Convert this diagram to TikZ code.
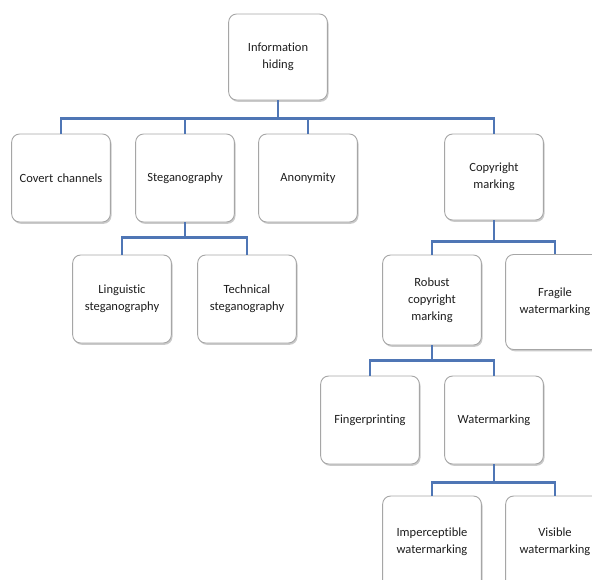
\documentclass[tikz,border=0pt]{standalone}
\usepackage{fontspec}
\setmainfont{Carlito}[Ligatures=NoCommon]
\usetikzlibrary{shadows}
\definecolor{connblue}{HTML}{4F76B5}
\definecolor{boxgray}{HTML}{A6A6A6}
\definecolor{txt}{HTML}{1E1E1E}
\tikzset{
  box/.style={draw=boxgray, line width=0.9pt, fill=white, rounded corners=8pt,
    minimum width=96pt, minimum height=88pt, text width=92pt, align=center,
    text=txt, font=\fontsize{12.5pt}{17pt}\selectfont,
    drop shadow={shadow xshift=1.2pt, shadow yshift=-1.8pt, opacity=0.35, fill=black!60}},
  conn/.style={draw=connblue, line width=2.6pt}
}
\begin{document}
\begin{tikzpicture}
\useasboundingbox (0,0) rectangle (592pt,-579pt);
\clip (0,0) rectangle (592pt,-579pt);
% nodes
\node[box, minimum height=86pt] (ih) at (278pt,-57pt) {Information\\hiding};
\node[box] (cc) at (61pt,-178pt) {Covert channels};
\node[box] (st) at (185pt,-178pt) {Steganography};
\node[box] (an) at (308pt,-178pt) {Anonymity};
\node[box, minimum height=86pt] (cm) at (494pt,-177pt) {Copyright\\marking};
\node[box] (li) at (122pt,-299pt) {Linguistic\\steganography};
\node[box] (te) at (247pt,-299pt) {Technical\\steganography};
\node[box, minimum height=90pt] (ro) at (432pt,-300pt) {Robust\\copyright\\marking};
\node[box, minimum height=95pt] (fr) at (555pt,-302pt) {Fragile\\watermarking};
\node[box] (fi) at (370pt,-420pt) {Fingerprinting};
\node[box] (wa) at (494pt,-420pt) {Watermarking};
\node[box, minimum height=92pt] (im) at (432pt,-542pt) {Imperceptible\\watermarking};
\node[box, minimum height=92pt] (vi) at (555pt,-542pt) {Visible\\watermarking};
% connectors
\draw[conn] (ih.south) -- ++(0,-18pt) -| (cc.north);
\draw[conn] (ih.south) -- ++(0,-18pt) -| (st.north);
\draw[conn] (ih.south) -- ++(0,-18pt) -| (an.north);
\draw[conn] (ih.south) -- ++(0,-18pt) -| (cm.north);
\draw[conn] (st.south) -- ++(0,-15pt) -| (li.north);
\draw[conn] (st.south) -- ++(0,-15pt) -| (te.north);
\draw[conn] (cm.south) -- ++(0,-21pt) -| (ro.north);
\draw[conn] (cm.south) -- ++(0,-21pt) -| (fr.north);
\draw[conn] (ro.south) -- ++(0,-15pt) -| (fi.north);
\draw[conn] (ro.south) -- ++(0,-15pt) -| (wa.north);
\draw[conn] (wa.south) -- ++(0,-18pt) -| (im.north);
\draw[conn] (wa.south) -- ++(0,-18pt) -| (vi.north);
\end{tikzpicture}
\end{document}
